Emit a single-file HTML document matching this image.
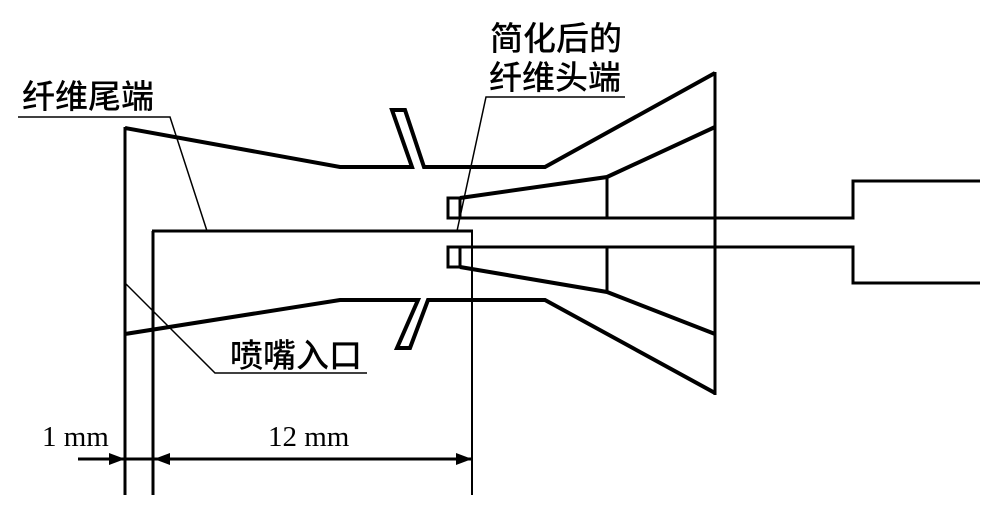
<!DOCTYPE html>
<html><head><meta charset="utf-8"><style>
html,body{margin:0;padding:0;background:#fff;}
svg{display:block;}
text{font-family:"Liberation Serif","Noto Sans CJK SC",serif;fill:#000;}
.cjk{font-family:"Liberation Sans","Noto Sans CJK SC",sans-serif;font-size:33px;font-weight:500;}
</style></head><body>
<svg width="1000" height="507" viewBox="0 0 1000 507" xmlns="http://www.w3.org/2000/svg">
<g fill="none" stroke="#000" stroke-linejoin="miter">
<line x1="125" y1="127" x2="125" y2="495" stroke-width="3"/>
<line x1="153" y1="231" x2="153" y2="495" stroke-width="3"/>
<line x1="472" y1="231" x2="472" y2="495" stroke-width="2"/>
<line x1="152" y1="231" x2="473" y2="231" stroke-width="3"/>
<polyline points="125,128 340,167 412,167 392,110 405,110 424,167 545,167 715,73" stroke-width="4"/>
<polyline points="125,334 340,300 418,300 397,348 410,348 428,300 545,300 715,393" stroke-width="4"/>
<line x1="715" y1="72" x2="715" y2="395" stroke-width="3"/>
<polyline points="460,198 607,177 715,127" stroke-width="4"/>
<polyline points="460,267 607,292 715,334" stroke-width="4"/>
<line x1="607" y1="177" x2="607" y2="218" stroke-width="3"/>
<line x1="607" y1="247" x2="607" y2="292" stroke-width="3"/>
<rect x="448" y="198" width="12" height="20" stroke-width="3"/>
<rect x="448" y="247" width="12" height="20" stroke-width="3"/>
<polyline points="448,218 853,218 853,181 980,181" stroke-width="3"/>
<polyline points="448,247 853,247 853,283 980,283" stroke-width="3"/>
<polyline points="18,117 170,117 207,231" stroke-width="1.5"/>
<polyline points="625,97 486,97 457,231" stroke-width="1.5"/>
<polyline points="125,283 215,373 367,373" stroke-width="1.5"/>
<line x1="78" y1="459" x2="472" y2="459" stroke-width="3"/>
</g>
<g fill="#000">
<polygon points="125,459 109,453 109,465"/>
<polygon points="154,459 170,453 170,465"/>
<polygon points="472,459 456,453 456,465"/>
</g>
<text class="cjk" x="22" y="108">纤维尾端</text>
<text class="cjk" x="490" y="50">简化后的</text>
<text class="cjk" x="489" y="89">纤维头端</text>
<text class="cjk" x="230" y="367">喷嘴入口</text>
<text x="42" y="446" font-size="29">1 mm</text>
<text x="268" y="446" font-size="29">12 mm</text>
</svg>
</body></html>
